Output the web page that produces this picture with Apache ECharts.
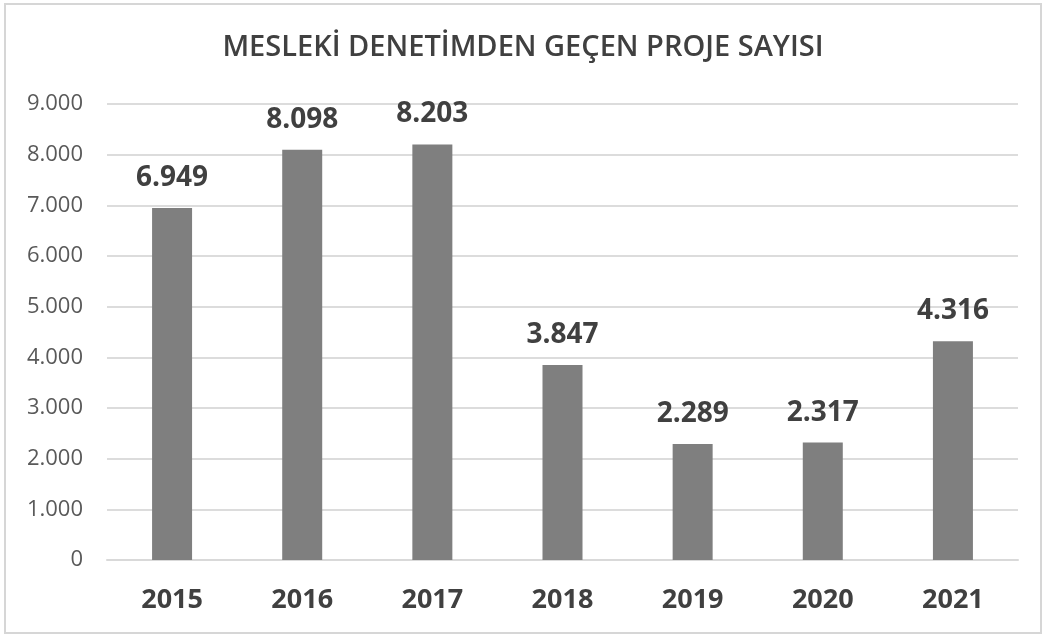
<!DOCTYPE html>
<html>
<head>
<meta charset="utf-8">
<script src="https://cdn.jsdelivr.net/npm/echarts@6/dist/echarts.min.js"></script>
<style>
  html, body { margin: 0; padding: 0; background: #fff; }
  #chart { width: 1046px; height: 637px; }
  .frame {
    position: absolute; left: 4px; top: 3px; width: 1034px; height: 627px;
    border: 2px solid #d6d6d6; pointer-events: none;
  }
</style>
</head>
<body>
<div id="chart"></div>
<div class="frame"></div>
<script>
const years = ['2015', '2016', '2017', '2018', '2019', '2020', '2021']
const projects = [6949, 8098, 8203, 3847, 2289, 2317, 4316]
const yTicks = [0, 1000, 2000, 3000, 4000, 5000, 6000, 7000, 8000, 9000]

// binlik ayraç olarak nokta
function trNum (v) {
  return String(v).replace(/\B(?=(\d{3})+(?!\d))/g, '.')
}

let chart = echarts.init(document.getElementById('chart'))
chart.setOption({
  animation: false,
  title: {
    text: 'MESLEKİ DENETİMDEN GEÇEN PROJE SAYISI',
    left: 'center',
    top: 28,
    textStyle: {
      color: '#404040',
      fontFamily: 'Open Sans',
      fontSize: 29,
      fontWeight: 600
    }
  },
  grid: {
    left: 107,
    right: 28,
    top: 104,
    bottom: 77
  },
  xAxis: {
    type: 'category',
    data: years,
    axisTick: { show: false },
    axisLine: { lineStyle: { color: '#d9d9d9', width: 2 } },
    axisLabel: {
      color: '#404040',
      fontFamily: 'Open Sans',
      fontSize: 27,
      fontWeight: 'bold',
      margin: 27
    }
  },
  yAxis: {
    type: 'value',
    min: yTicks[0],
    max: yTicks[yTicks.length - 1],
    interval: 1000,
    axisLine: { show: false },
    axisTick: { show: false },
    splitLine: { lineStyle: { color: '#dcdcdc', width: 2 } },
    axisLabel: {
      color: '#595959',
      fontFamily: 'Open Sans',
      fontSize: 22,
      margin: 24,
      formatter: trNum
    }
  },
  series: [{
    type: 'bar',
    data: projects,
    barWidth: 40,
    itemStyle: { color: '#7f7f7f' },
    label: {
      show: true,
      position: 'top',
      distance: 16,
      color: '#404040',
      fontFamily: 'Open Sans',
      fontSize: 28,
      fontWeight: 'bold',
      formatter: p => trNum(p.value)
    }
  }]
})
</script>
</body>
</html>
